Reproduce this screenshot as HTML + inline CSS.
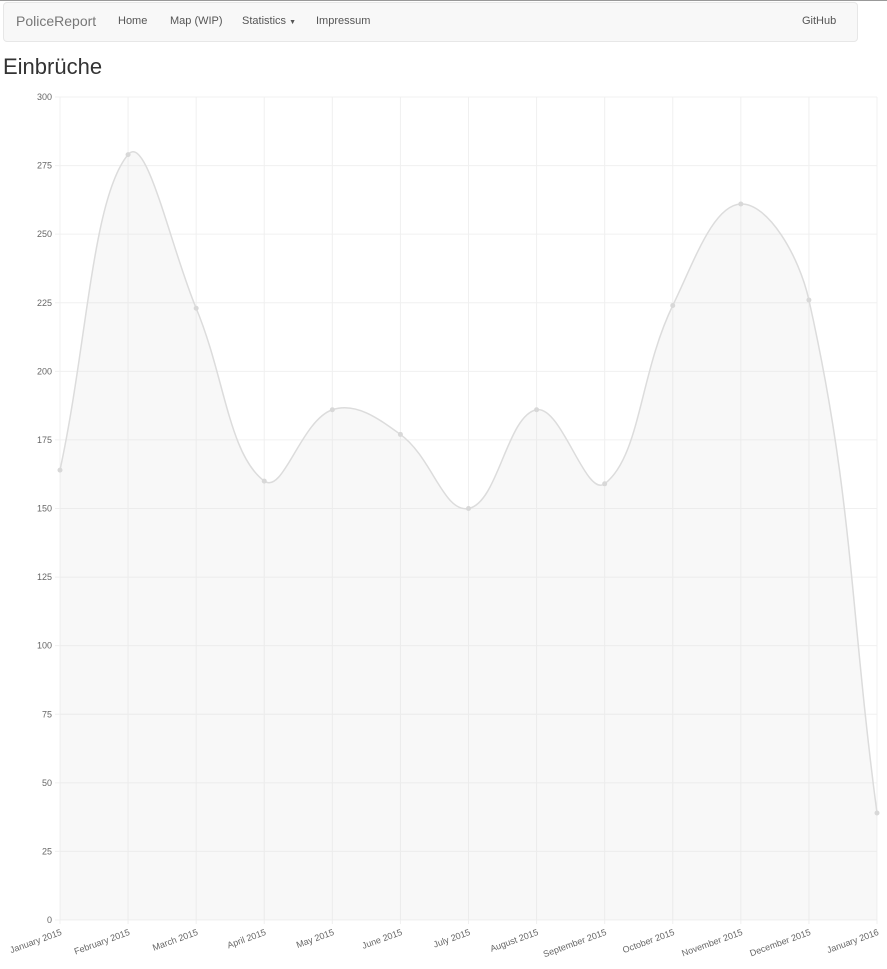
<!DOCTYPE html>
<html><head><meta charset="utf-8"><style>
body{margin:0;width:887px;height:969px;overflow:hidden;background:#fff;font-family:"Liberation Sans",sans-serif;}
.topline{position:absolute;left:0;top:0;width:887px;height:1px;background:#999;}
.nav{position:absolute;left:3px;top:2px;width:853px;height:38px;background:#f8f8f8;border:1px solid #e7e7e7;border-radius:4px;}
.nav span{position:absolute;top:12px;font-size:11px;color:#555;}
h1{position:absolute;left:3px;top:54px;margin:0;font-size:22px;font-weight:normal;color:#333;}
svg{position:absolute;left:0;top:0;}
</style></head><body>
<div class="topline"></div>
<div class="nav">
<span style="left:12px;top:10px;font-size:14px;color:#777">PoliceReport</span>
<span style="left:114px">Home</span>
<span style="left:166px">Map (WIP)</span>
<span style="left:238px">Statistics <span style="position:static;font-size:7px">▼</span></span>
<span style="left:312px">Impressum</span>
<span style="left:798px">GitHub</span>
</div>
<h1>Einbrüche</h1>
<svg id="chart" width="887" height="969"></svg>
<script>
const categories=["January 2015","February 2015","March 2015","April 2015","May 2015","June 2015","July 2015","August 2015","September 2015","October 2015","November 2015","December 2015","January 2016"];
const values=[164,279,223,160,186,177,150,186,159,224,261,226,39];
const yTicks=[0,25,50,75,100,125,150,175,200,225,250,275,300];
const X0=60,X1=877,Y0=920,Y1=97,YMAX=300;
const xs=i=>X0+i*(X1-X0)/(categories.length-1);
const ys=v=>Y0-v/YMAX*(Y0-Y1);
const svg=document.getElementById('chart');
const NS='http://www.w3.org/2000/svg';
function mk(t,a){const e=document.createElementNS(NS,t);for(const k in a)e.setAttribute(k,a[k]);svg.appendChild(e);return e;}
yTicks.forEach(t=>{
 const l=mk('line',{x1:55,x2:X1,y1:ys(t),y2:ys(t),stroke:'#f0f0f0','stroke-width':1});
 
 
 const tx=mk('text',{x:52,y:ys(t)+3,'text-anchor':'end','font-size':9,fill:'#666','font-family':'Liberation Sans, sans-serif'});
 tx.textContent=t;
 
 
});
categories.forEach((c,i)=>{
 const x=xs(i);
 const l=mk('line',{x1:x,x2:x,y1:Y1,y2:Y0+4,stroke:'#f0f0f0','stroke-width':1});
 
 
 const tx=mk('text',{x:x,y:Y0+15,'text-anchor':'end','font-size':9,fill:'#666','font-family':'Liberation Sans, sans-serif',transform:`rotate(-20 ${x} ${Y0+8})`});
 tx.textContent=c;
 
 
});
const pts=values.map((v,i)=>({x:xs(i),y:ys(v)}));
const cps=pts.map((p,i)=>{
 const a=pts[i-1]||p,c=pts[i+1]||p,t=0.4;
 const d01=Math.hypot(p.x-a.x,p.y-a.y),d12=Math.hypot(c.x-p.x,c.y-p.y);
 const s=d01+d12||1;const fa=t*d01/s,fb=t*d12/s;
 return {px:p.x-fa*(c.x-a.x),py:Math.min(Y0,p.y-fa*(c.y-a.y)),nx:p.x+fb*(c.x-a.x),ny:Math.min(Y0,p.y+fb*(c.y-a.y))};
});
let d=`M${pts[0].x},${pts[0].y}`;
for(let i=1;i<pts.length;i++)d+=` C${cps[i-1].nx},${cps[i-1].ny} ${cps[i].px},${cps[i].py} ${pts[i].x},${pts[i].y}`;
const area=mk('path',{d:d+` L${pts[pts.length-1].x},${Y0} L${pts[0].x},${Y0} Z`,fill:'rgba(220,220,220,0.2)',stroke:'none'});


const line=mk('path',{d:d,fill:'none',stroke:'#dcdcdc','stroke-width':1.5});


pts.forEach(p=>{
 const c=mk('circle',{cx:p.x,cy:p.y,r:2.5,fill:'#d8d8d8',stroke:'none'});
 
 
});
</script>
</body></html>
